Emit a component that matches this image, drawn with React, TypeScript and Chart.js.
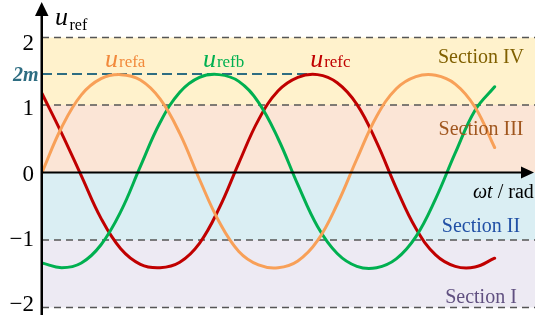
import { useEffect, useRef } from 'react';
import { Chart, registerables } from 'chart.js';

Chart.register(...registerables);

// Phase angle samples (rad)
const omegaT = [0, 0.4, 0.8, 1.2, 1.6, 2.0, 2.4, 2.8, 3.2, 3.6, 4.0, 4.4, 4.8, 5.2, 5.6, 6.0, 6.4, 6.8, 7.2, 7.6, 8.0, 8.4, 8.8, 9.2];

// Three-phase reference voltages
const uRefA = [0, 0.67, 1.15, 1.39, 1.45, 1.37, 1.09, 0.58, -0.1, -0.73, -1.17, -1.37, -1.41, -1.31, -1.01, -0.47, 0.2, 0.83, 1.24, 1.42, 1.44, 1.31, 0.97, 0.37];
const uRefB = [-1.34, -1.41, -1.34, -1.07, -0.58, 0.09, 0.74, 1.19, 1.41, 1.45, 1.35, 1.04, 0.5, -0.18, -0.8, -1.2, -1.39, -1.41, -1.28, -0.95, -0.39, 0.29, 0.92, 1.27];
const uRefC = [1.17, 0.58, -0.05, -0.68, -1.13, -1.36, -1.41, -1.33, -1.05, -0.53, 0.14, 0.78, 1.21, 1.41, 1.45, 1.33, 1.01, 0.45, -0.23, -0.83, -1.22, -1.39, -1.4, -1.27];

const seriesSuffix = ['refa', 'refb', 'refc'];
const seriesLabelAt = [1.28, 3.27, 5.45];

// Vertical axis
const yTicks = [2, 1, 0, -1, -2];
const yTickLabels = ['2', '1', '0', '\u22121', '\u22122'];
const levelLines = [2, 1, -1, -2];
const twoM = 1.46;
const twoMEnd = 5.5;

// Sections between the levels
const sectionNames = ['Section I', 'Section II', 'Section III', 'Section IV'];
const sectionLow = [-2, -1, 0, 1];
const sectionHigh = [-1, 0, 1, 2];

// Styles
const SERIF = "'Liberation Serif', 'Times New Roman', serif";
const lineColors = ['#F8A058', '#00B050', '#C00000'];
const labelColors = ['#F28A3C', '#00B050', '#C00000'];
const sectionFill = ['#EDEAF3', '#DAEEF3', '#FBE5D6', '#FFF2CC'];
const sectionInk = ['#605080', '#2150A5', '#A0561E', '#806000'];
const sectionBaseline = [303, 232, 135, 63];
const TEAL = '#2E6D82';

const decor = {
  id: 'decor',
  beforeDatasetsDraw(chart: any) {
    const { ctx, scales } = chart;
    const x = scales.x;
    const y = scales.y;
    const W = chart.width;
    const x0 = x.getPixelForValue(0);
    ctx.save();
    // bands
    for (let i = 0; i < sectionNames.length; i++) {
      const top = y.getPixelForValue(sectionHigh[i]);
      const bot = y.getPixelForValue(sectionLow[i]);
      ctx.fillStyle = sectionFill[i];
      ctx.fillRect(x0, top, W - x0, bot - top);
    }
    // dashed level lines
    ctx.setLineDash([7, 5]);
    ctx.strokeStyle = '#555555';
    ctx.lineWidth = 1.5;
    for (const v of levelLines) {
      const py = y.getPixelForValue(v);
      ctx.beginPath();
      ctx.moveTo(x0, py);
      ctx.lineTo(W, py);
      ctx.stroke();
    }
    // 2m level
    ctx.setLineDash([10, 5]);
    ctx.strokeStyle = TEAL;
    ctx.lineWidth = 2;
    const pm = y.getPixelForValue(twoM);
    ctx.beginPath();
    ctx.moveTo(x0, pm);
    ctx.lineTo(x.getPixelForValue(twoMEnd), pm);
    ctx.stroke();
    ctx.restore();
  },
  afterDatasetsDraw(chart: any) {
    const { ctx, scales } = chart;
    const x = scales.x;
    const y = scales.y;
    const x0 = x.getPixelForValue(0);
    const y0 = y.getPixelForValue(0);
    ctx.save();
    ctx.setLineDash([]);
    ctx.fillStyle = '#000';
    // horizontal axis with arrow
    ctx.fillRect(x0, y0 - 1, 523 - x0, 2);
    ctx.beginPath();
    ctx.moveTo(534, y0);
    ctx.lineTo(521, y0 - 6);
    ctx.lineTo(521, y0 + 6);
    ctx.closePath();
    ctx.fill();
    // vertical axis with arrow
    ctx.fillRect(x0 - 1.5, 14, 2.5, 315 - 14);
    ctx.beginPath();
    ctx.moveTo(x0 - 0.3, 2);
    ctx.lineTo(x0 - 7, 16);
    ctx.lineTo(x0 + 6.5, 16);
    ctx.closePath();
    ctx.fill();

    // tick labels
    ctx.textAlign = 'right';
    ctx.textBaseline = 'alphabetic';
    ctx.font = `23px ${SERIF}`;
    yTicks.forEach((v, i) => {
      const py = y.getPixelForValue(v);
      ctx.fillText(yTickLabels[i], 34, y0 + 8 + (py - y0) * 0.97);
    });
    // 2m
    ctx.fillStyle = TEAL;
    ctx.font = `bold italic 20px ${SERIF}`;
    ctx.fillText('2m', 38.5, y.getPixelForValue(twoM) + 7);

    // axis titles
    ctx.textAlign = 'left';
    ctx.fillStyle = '#000';
    ctx.font = `italic 26px ${SERIF}`;
    ctx.fillText('u', 55, 25);
    ctx.font = `16px ${SERIF}`;
    ctx.fillText('ref', 69.5, 29.5);

    ctx.font = `italic 20px ${SERIF}`;
    ctx.fillText('\u03C9t', 473, 198);
    const wt = ctx.measureText('\u03C9t').width;
    ctx.font = `20px ${SERIF}`;
    ctx.fillText(' / rad', 473 + wt, 198);

    // series labels
    seriesSuffix.forEach((s, i) => {
      const px = x.getPixelForValue(seriesLabelAt[i]);
      ctx.fillStyle = labelColors[i];
      ctx.font = `italic 26px ${SERIF}`;
      ctx.fillText('u', px, 67);
      const w = ctx.measureText('u').width;
      ctx.font = `17px ${SERIF}`;
      ctx.fillText(s, px + w + 1, 67);
    });

    // section labels
    ctx.textAlign = 'center';
    ctx.font = `20px ${SERIF}`;
    sectionNames.forEach((n, i) => {
      ctx.fillStyle = sectionInk[i];
      ctx.fillText(n, 481, sectionBaseline[i]);
    });
    ctx.restore();
  },
};

export default function App() {
  const ref = useRef<HTMLCanvasElement | null>(null);

  useEffect(() => {
    const canvas = ref.current;
    if (!canvas) return;
    const series = [uRefA, uRefB, uRefC];
    const chart = new Chart(canvas, {
      type: 'line',
      data: {
        datasets: series.map((vals, i) => ({
          label: 'u' + seriesSuffix[i],
          data: omegaT.map((t, k) => ({ x: t, y: vals[k] })),
          borderColor: lineColors[i],
          borderWidth: 3,
          pointRadius: 0,
          tension: 0.4,
          fill: false,
          borderCapStyle: 'round',
        })),
      },
      options: {
        responsive: false,
        animation: false,
        devicePixelRatio: 1,
        events: [],
        layout: { padding: { left: 42, right: 1, top: 0, bottom: 0 } },
        scales: {
          x: { type: 'linear', min: 0, max: 10, display: false },
          y: { type: 'linear', min: -2.2, max: 2.5556, display: false },
        },
        plugins: { legend: { display: false }, tooltip: { enabled: false } },
      },
      plugins: [decor],
    } as any);
    return () => chart.destroy();
  }, []);

  return (
    <div style={{ position: 'fixed', left: 0, top: 0, width: 535, height: 321, background: '#fff' }}>
      <canvas ref={ref} width={535} height={321} style={{ display: 'block' }} />
    </div>
  );
}
